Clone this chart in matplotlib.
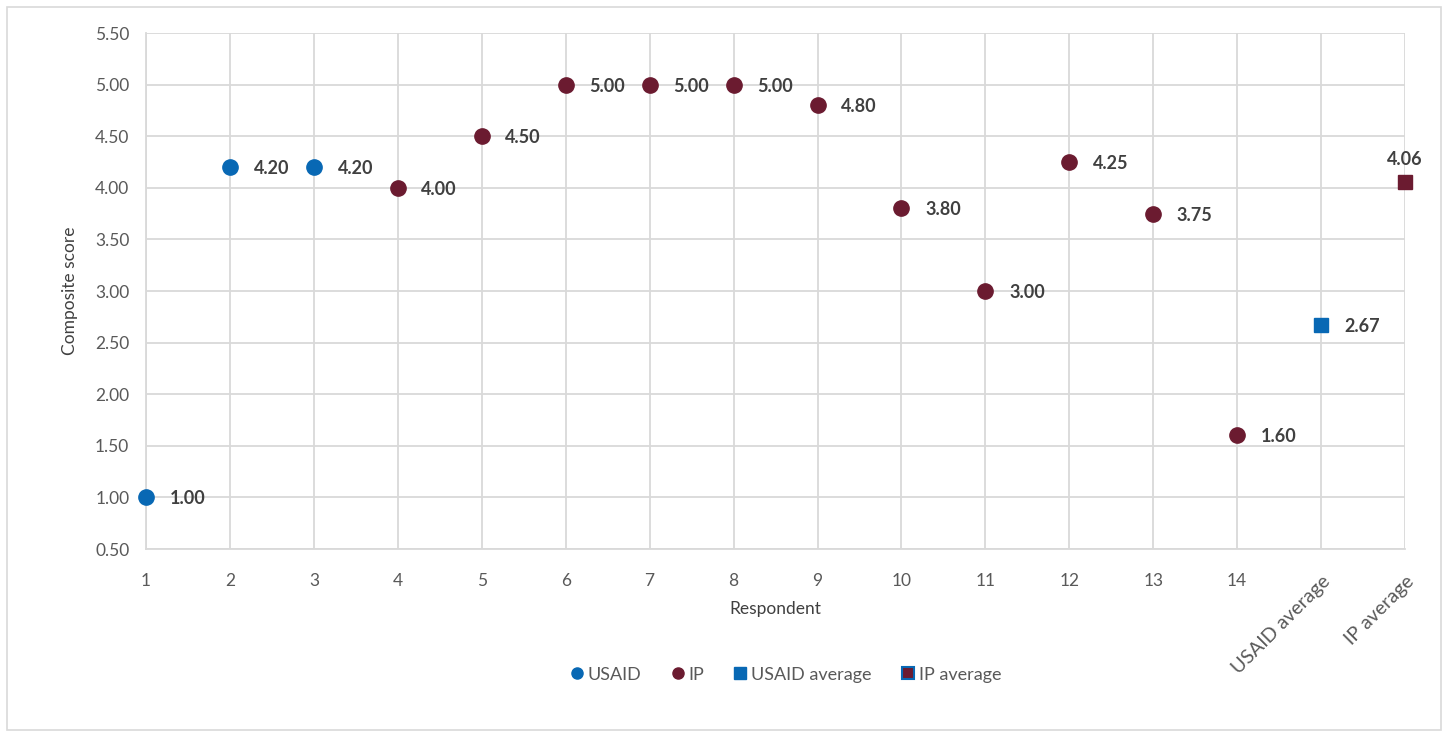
import matplotlib.pyplot as plt
from matplotlib.lines import Line2D
from matplotlib.patches import Rectangle

plt.rcParams['font.family'] = ['Lato', 'DejaVu Sans']

# respondent scores
usaid_x = [1, 2, 3]
usaid_y = [1.00, 4.20, 4.20]
ip_x = [4, 5, 6, 7, 8, 9, 10, 11, 12, 13, 14]
ip_y = [4.00, 4.50, 5.00, 5.00, 5.00, 4.80, 3.80, 3.00, 4.25, 3.75, 1.60]
usaid_avg_x = [15]
usaid_avg_y = [2.67]
ip_avg_x = [16]
ip_avg_y = [4.06]
tick_labels = [str(i) for i in range(1, 15)] + ['USAID average', 'IP average']

blue = '#0868B4'
maroon = '#6B1B30'
grid = '#D9D9D9'
text_c = '#595959'
lab_c = '#404040'

fig = plt.figure(figsize=(14.53, 7.39), dpi=100)
fig.patches.append(Rectangle((0.005, 0.012), 0.987, 0.978, transform=fig.transFigure,
                             fill=False, edgecolor='#D9D9D9', linewidth=1.2))
ax = fig.add_axes([0.1005, 0.2571, 0.8665, 0.6982])

ax.set_xlim(1, 16)
ax.set_ylim(0.5, 5.5)
ax.set_xticks(range(1, 17))
ax.set_yticks([0.5 + 0.5 * i for i in range(11)])
ax.set_yticklabels(['%.2f' % (0.5 + 0.5 * i) for i in range(11)])
ax.set_xticklabels(tick_labels)
for t in ax.get_xticklabels()[14:]:
    t.set_rotation(45)
    t.set_ha('right')
    t.set_va('top')
    t.set_rotation_mode('anchor')
    t.set_fontsize(14)
ax.grid(True, color=grid, linewidth=1.3)
ax.set_axisbelow(True)
for s in ['top', 'right']:
    ax.spines[s].set_visible(False)
for s in ['left', 'bottom']:
    ax.spines[s].set_color(grid)
    ax.spines[s].set_linewidth(1.3)
ax.tick_params(length=0, labelsize=12.5, colors=text_c)
ax.tick_params(axis='x', pad=17)
ax.tick_params(axis='y', pad=12)
for t in ax.get_xticklabels()[14:]:
    t.set_fontsize(14)
ax.set_xlabel('Respondent', fontsize=12.5, color=lab_c)
ax.xaxis.set_label_coords(0.5, -0.1)
ax.set_ylabel('Composite score', fontsize=12.5, color=lab_c, labelpad=12)

ax.plot(usaid_x, usaid_y, 'o', color=blue, markersize=11, clip_on=False, zorder=3)
ax.plot(ip_x, ip_y, 'o', color=maroon, markersize=11, clip_on=False, zorder=3)
ax.plot(usaid_avg_x, usaid_avg_y, 's', color=blue, markersize=10, clip_on=False, zorder=3)
ax.plot(ip_avg_x, ip_avg_y, 's', color=maroon, markersize=10, clip_on=False, zorder=3)

for x, y in zip(usaid_x + ip_x + usaid_avg_x, usaid_y + ip_y + usaid_avg_y):
    ax.annotate('%.2f' % y, (x, y), xytext=(17, -1), textcoords='offset points',
                ha='left', va='center', fontsize=13, fontweight='bold', color=lab_c)
for x, y in zip(ip_avg_x, ip_avg_y):
    ax.annotate('%.2f' % y, (x, y), xytext=(0, 10), textcoords='offset points',
                ha='center', va='bottom', fontsize=13, fontweight='bold', color=lab_c)

handles = [
    Line2D([], [], marker='o', ls='', color=blue, markersize=8),
    Line2D([], [], marker='o', ls='', color=maroon, markersize=8),
    Line2D([], [], marker='s', ls='', color=blue, markersize=8),
    Line2D([], [], marker='s', ls='', markerfacecolor=maroon, markeredgecolor=blue,
           markeredgewidth=1.5, markersize=8),
]
fig.legend(handles, ['USAID', 'IP', 'USAID average', 'IP average'], loc='center',
           bbox_to_anchor=(0.54, 0.087), ncol=4, frameon=False, fontsize=13,
           handletextpad=0.1, columnspacing=1.5, labelcolor=text_c, handlelength=1)

fig.savefig('out.png', dpi=100)
